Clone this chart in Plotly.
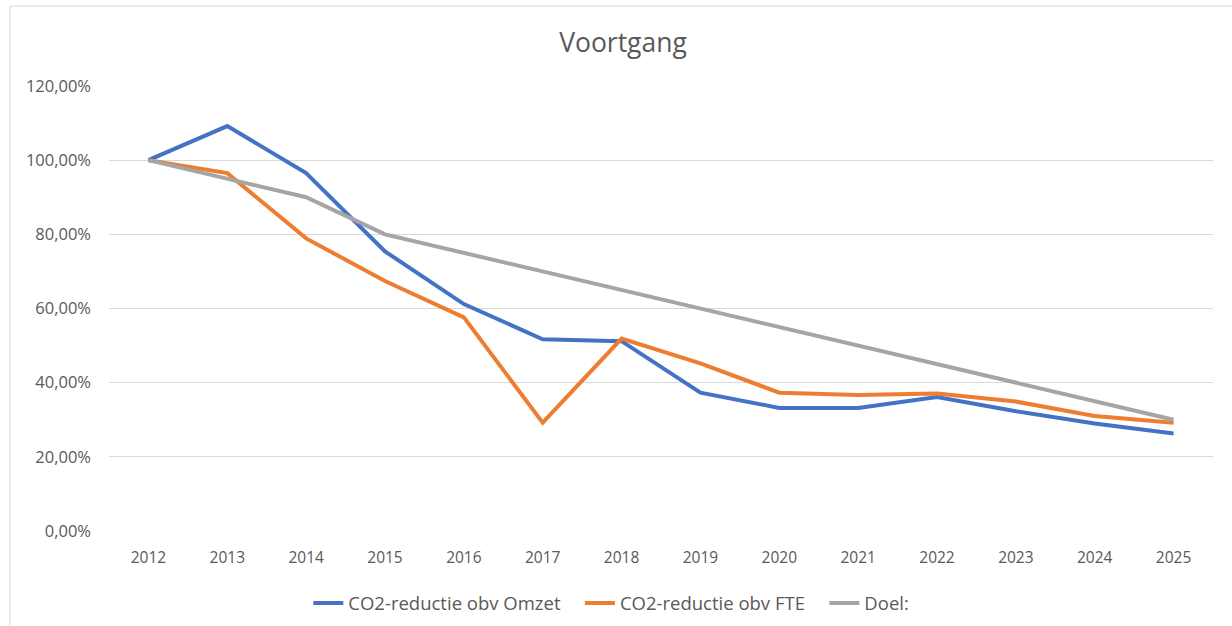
import plotly.graph_objects as go

years = [str(y) for y in range(2012, 2026)]
omzet = [100, 109.2, 96.5, 75.4, 61.2, 51.7, 51.2, 37.3, 33.2, 33.2, 36.1, 32.3, 29.0, 26.3]
fte = [100, 96.5, 78.9, 67.4, 57.6, 29.2, 51.9, 45.2, 37.3, 36.7, 37.1, 34.9, 31.0, 29.2]
doel = [100, 95, 90, 80, 75, 70, 65, 60, 55, 50, 45, 40, 35, 30]

names = ["CO2-reductie obv Omzet", "CO2-reductie obv FTE", "Doel:"]
colors = ["#4472C4", "#ED7D31", "#A5A5A5"]
pad = "&nbsp;" * 3

fig = go.Figure()
for i, (name, vals, col) in enumerate(zip(names, [omzet, fte, doel], colors)):
    fig.add_trace(go.Scatter(
        x=years, y=[v / 100 for v in vals], mode="lines",
        name=name + (pad if i < len(names) - 1 else ""),
        line=dict(color=col, width=4), cliponaxis=False))

font_fam = "Open Sans, Liberation Sans, sans-serif"
fig.update_layout(
    width=1232, height=626,
    margin=dict(l=109, r=19, t=86, b=95, autoexpand=False),
    paper_bgcolor="white", plot_bgcolor="white",
    title=dict(text="Voortgang", x=0.5057, xanchor="center", y=0.931, yanchor="middle",
               font=dict(family=font_fam, size=26.5, color="#595959")),
    font=dict(family=font_fam, size=15, color="#595959"),
    xaxis=dict(type="category", range=[-0.5, 13.5], showgrid=False, showline=False,
               ticks="", zeroline=False, ticklabelstandoff=15, automargin=False,
               tickfont=dict(size=15.5, color="#595959")),
    yaxis=dict(range=[0, 1.2], dtick=0.2, tickformat=".2%", automargin=False,
               showgrid=True, gridcolor="#D9D9D9", gridwidth=1, zeroline=False,
               showline=False, ticks="", ticklabelstandoff=17,
               tickfont=dict(size=16.5, color="#595959")),
    separators=",.",
    legend=dict(orientation="h", x=0.455, xanchor="center", y=-0.12, yanchor="top",
                font=dict(size=18.5, color="#595959"), itemwidth=30,
                traceorder="normal"),
    showlegend=True,
    shapes=[dict(type="rect", xref="paper", yref="paper",
                 x0=-0.0897, x1=1.1, y0=-0.3, y1=1.1798,
                 line=dict(color="#D9D9D9", width=1), layer="below")],
)

fig.write_html("out.html", config={"displayModeBar": False},
               post_script="document.body.style.margin='0px';document.body.style.overflow='hidden';")
